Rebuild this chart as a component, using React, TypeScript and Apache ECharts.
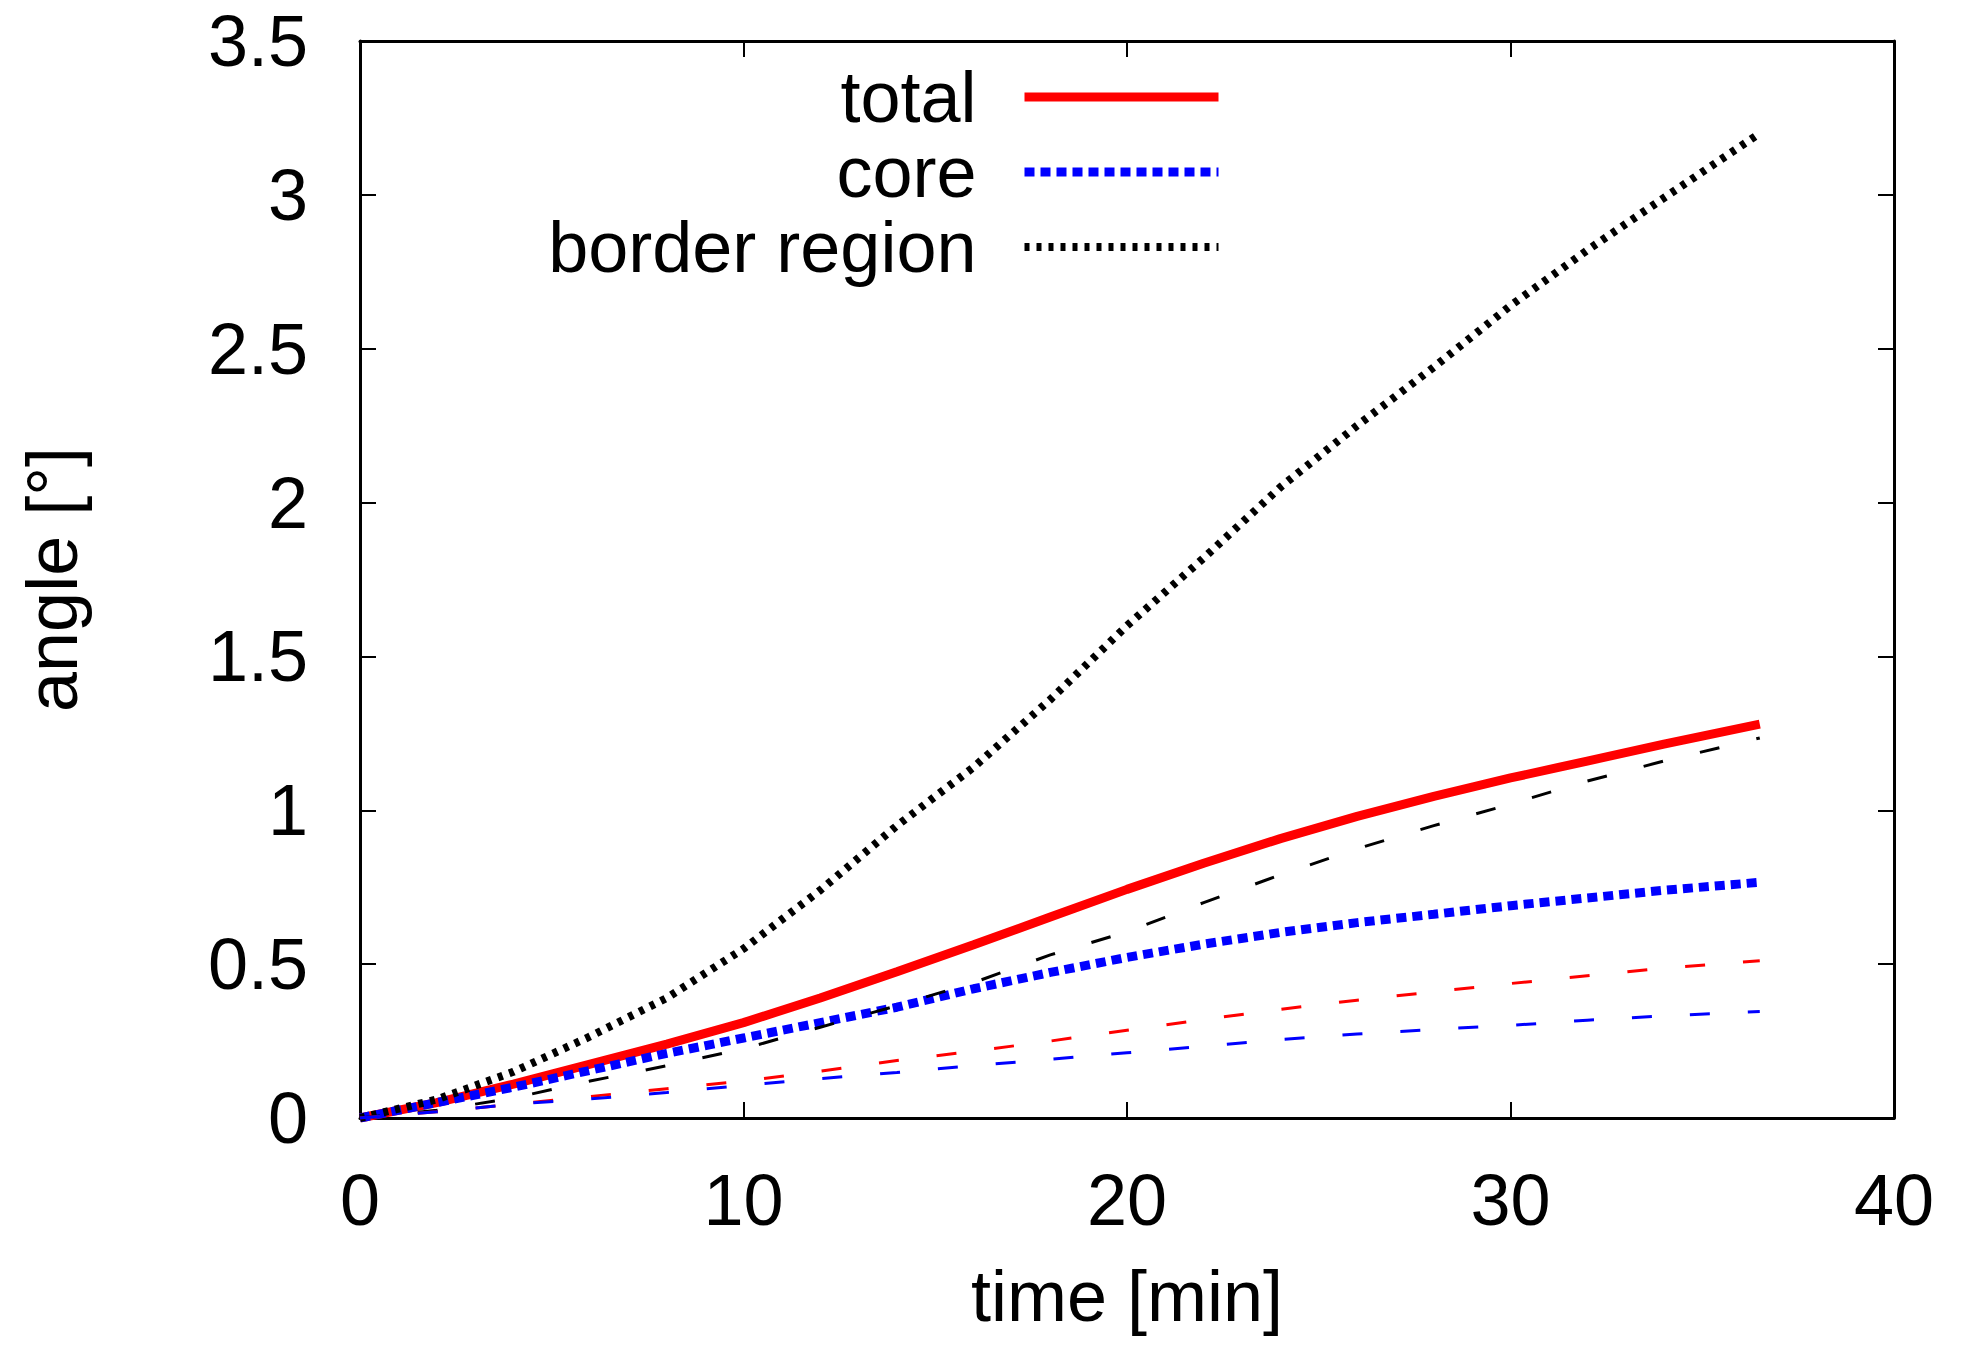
import React, { useEffect, useRef } from "react";
import * as echarts from "echarts";

// time [min]
const time = [0, 2, 4, 6, 8, 10, 12, 14, 16, 18, 20, 22, 24, 26, 28, 30, 32, 34, 36.5];

// labelled series
const total = [0, 0.05, 0.11, 0.175, 0.24, 0.31, 0.39, 0.475, 0.563, 0.653, 0.743, 0.828, 0.908, 0.98, 1.045, 1.105, 1.16, 1.215, 1.28];
const core = [0, 0.05, 0.1, 0.155, 0.21, 0.26, 0.31, 0.36, 0.42, 0.473, 0.522, 0.565, 0.603, 0.635, 0.662, 0.69, 0.715, 0.74, 0.766];
const borderRegion = [0, 0.06, 0.15, 0.265, 0.39, 0.55, 0.74, 0.95, 1.14, 1.36, 1.6, 1.82, 2.05, 2.25, 2.44, 2.64, 2.82, 2.99, 3.2];

// thin dashed (unlabelled) series
const dashedBlack = [0, 0.025, 0.065, 0.12, 0.17, 0.225, 0.295, 0.365, 0.44, 0.53, 0.605, 0.7, 0.79, 0.875, 0.95, 1.02, 1.095, 1.16, 1.235];
const dashedRed = [0, 0.02, 0.045, 0.07, 0.095, 0.12, 0.152, 0.187, 0.217, 0.25, 0.285, 0.32, 0.353, 0.383, 0.41, 0.437, 0.462, 0.487, 0.511];
const dashedBlue = [0, 0.02, 0.045, 0.062, 0.083, 0.106, 0.128, 0.148, 0.17, 0.191, 0.212, 0.233, 0.255, 0.273, 0.288, 0.301, 0.318, 0.332, 0.346];

const legendNames = ["total", "core", "border region"];

export default function App() {
  const ref = useRef<HTMLDivElement>(null);

  useEffect(() => {
    document.body.style.margin = "0";
    const chart = echarts.init(ref.current!, null, { renderer: "svg" });
    const font = "'Liberation Sans', Arial, Helvetica, sans-serif";
    const pairs = (ys: number[]) => time.map((t, i) => [t, ys[i]]);
    const axisLine = { show: true, onZero: false, lineStyle: { color: "#000", width: 3 } };
    const axisTick = { show: true, inside: true, length: 16, lineStyle: { color: "#000", width: 2 } };
    const labelStyle = { color: "#000", fontSize: 72, fontFamily: font };

    const lineSeries = (name: string, ys: number[], lineStyle: any, z: number) => ({
      name,
      type: "line",
      data: pairs(ys),
      symbol: "none",
      showSymbol: false,
      smooth: false,
      lineStyle,
      itemStyle: { color: lineStyle.color },
      z,
    });

    chart.setOption({
      animation: false,
      backgroundColor: "#fff",
      textStyle: { fontFamily: font },
      grid: { left: 360, right: 71, top: 41, bottom: 237, containLabel: false },
      xAxis: [
        {
          type: "value",
          position: "bottom",
          min: 0,
          max: 40,
          interval: 10,
          axisLine,
          axisTick,
          splitLine: { show: false },
          axisLabel: { ...labelStyle, margin: 46 },
          name: "time [min]",
          nameLocation: "middle",
          nameGap: 142,
          nameTextStyle: labelStyle,
        },
        {
          type: "value",
          position: "top",
          min: 0,
          max: 40,
          interval: 10,
          axisLine,
          axisTick,
          splitLine: { show: false },
          axisLabel: { show: false },
        },
      ],
      yAxis: [
        {
          type: "value",
          position: "left",
          min: 0,
          max: 3.5,
          interval: 0.5,
          axisLine,
          axisTick,
          splitLine: { show: false },
          axisLabel: { ...labelStyle, margin: 52 },
          name: "angle [°]",
          nameLocation: "middle",
          nameGap: 272,
          nameTextStyle: labelStyle,
        },
        {
          type: "value",
          position: "right",
          min: 0,
          max: 3.5,
          interval: 0.5,
          axisLine,
          axisTick,
          splitLine: { show: false },
          axisLabel: { show: false },
        },
      ],
      legend: {
        data: legendNames,
        orient: "vertical",
        align: "right",
        right: 737,
        top: 56,
        itemWidth: 194,
        itemHeight: 1,
        itemGap: 3,
        itemStyle: { opacity: 0, color: "rgba(0,0,0,0)", borderWidth: 0 },
        lineStyle: { width: "inherit", type: "inherit" },
        textStyle: { ...labelStyle, padding: [0, 43, 0, 0] },
      },
      series: [
        lineSeries("total", total, { color: "#f00", width: 9, type: "solid" }, 3),
        lineSeries("core", core, { color: "#00f", width: 9, type: [10, 6], cap: "butt" }, 3),
        lineSeries("border region", borderRegion, { color: "#000", width: 8, type: [5, 7], cap: "butt" }, 3),
        lineSeries("border region (dashed)", dashedBlack, { color: "#000", width: 3, type: [20, 38] }, 4),
        lineSeries("total (dashed)", dashedRed, { color: "#f00", width: 3, type: [20, 38] }, 4),
        lineSeries("core (dashed)", dashedBlue, { color: "#00f", width: 3, type: [20, 38] }, 4),
      ],
    });

    return () => chart.dispose();
  }, []);

  return <div ref={ref} style={{ width: 1965, height: 1355 }} />;
}
